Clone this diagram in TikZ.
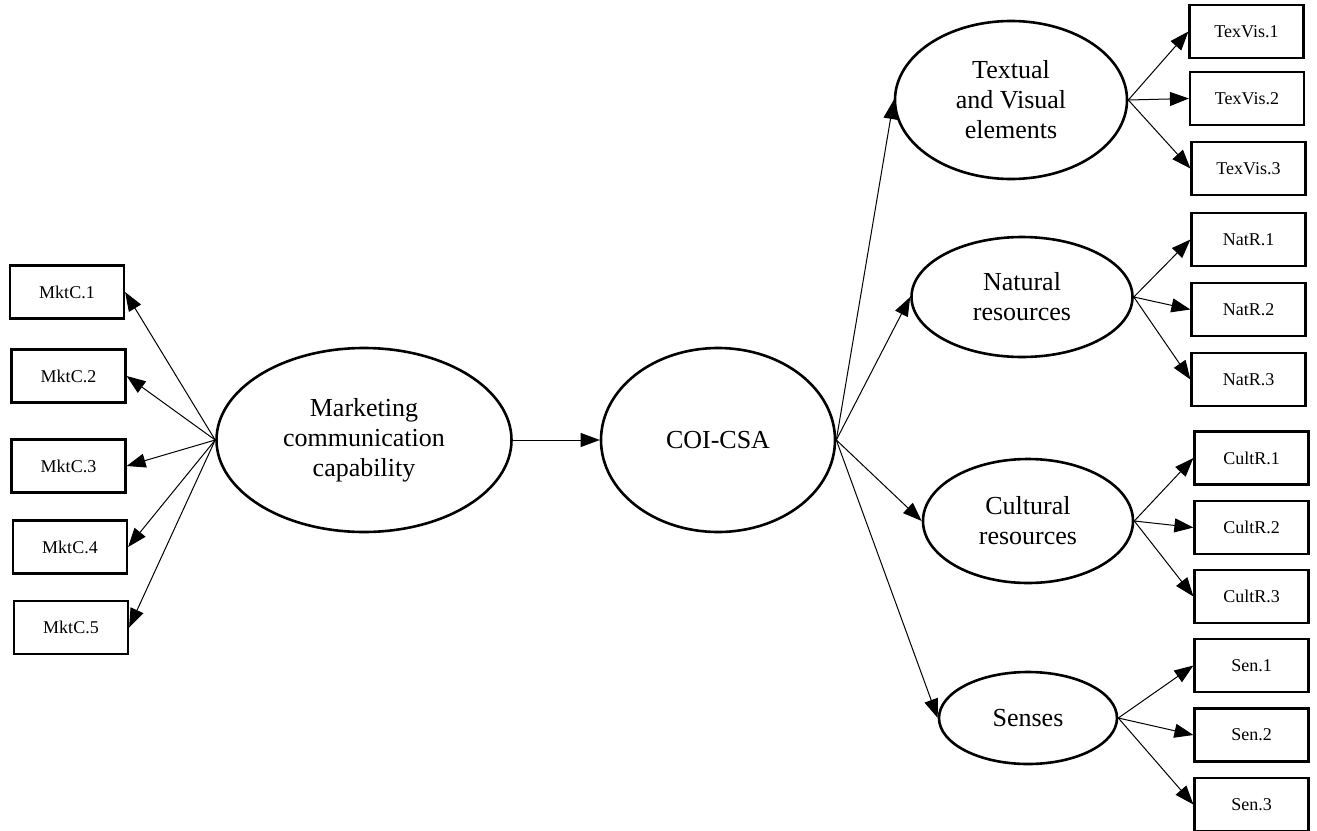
\documentclass[tikz,border=0pt]{standalone}
\usepackage{fontspec}
\setmainfont{Liberation Serif}
\usetikzlibrary{shapes.geometric,arrows.meta}

\begin{document}
\begin{tikzpicture}[
        %Environment config
        x=1pt,y=-1pt,
        line width=1pt,
        >={Triangle[length=19pt,width=14pt]},
        %Environment styles
        LatentCfg/.style={
            ellipse,
            draw,
            line width=2.6pt,
            inner sep=0pt,
            align=center,
            font=\fontsize{26}{30}\selectfont
        },
        ItemCfg/.style={
            rectangle,
            draw,
            line width=2.2pt,
            minimum width=114pt,
            minimum height=53pt,
            inner sep=0pt,
            font=\fontsize{18}{20}\selectfont
        }
    ]
    \useasboundingbox (0,0) rectangle (1317,830);

    % latent constructs
    \path
        (364,440) node[LatentCfg,minimum width=295pt,minimum height=184pt](MC){Marketing\\communication\\capability}
        (718,440) node[LatentCfg,minimum width=234pt,minimum height=184pt](COI){COI-CSA}
        (1011,100) node[LatentCfg,minimum width=232pt,minimum height=158pt](TV){Textual\\and Visual\\elements}
        (1022,297) node[LatentCfg,minimum width=221pt,minimum height=120pt](NR){Natural\\resources}
        (1028,521) node[LatentCfg,minimum width=210pt,minimum height=124pt](CR){Cultural\\resources}
        (1028,718) node[LatentCfg,minimum width=178pt,minimum height=92pt](SE){Senses};

    % indicators
    \path
        (67,292) node[ItemCfg](MK1){MktC.1}
        (68.5,376) node[ItemCfg](MK2){MktC.2}
        (68.5,466) node[ItemCfg](MK3){MktC.3}
        (70,547) node[ItemCfg](MK4){MktC.4}
        (71,627.5) node[ItemCfg](MK5){MktC.5}
        (1246.5,31.5) node[ItemCfg](TV1){TexVis.1}
        (1247,98.5) node[ItemCfg](TV2){TexVis.2}
        (1248.5,168.5) node[ItemCfg](TV3){TexVis.3}
        (1248.5,239.5) node[ItemCfg](NR1){NatR.1}
        (1248.5,309.5) node[ItemCfg](NR2){NatR.2}
        (1248.5,379.5) node[ItemCfg](NR3){NatR.3}
        (1251.5,458) node[ItemCfg](CR1){CultR.1}
        (1251.5,527.5) node[ItemCfg](CR2){CultR.2}
        (1251.5,596.5) node[ItemCfg](CR3){CultR.3}
        (1251.5,665.5) node[ItemCfg](SE1){Sen.1}
        (1251.5,735) node[ItemCfg](SE2){Sen.2}
        (1251.5,804.5) node[ItemCfg](SE3){Sen.3};

    \path[->]
        (MC.west) edge (MK1.east) edge (MK2.east) edge (MK3.east)
            edge (MK4.east) edge (MK5.east)

        (MC.east) edge (COI.west)

        (COI.east) edge (TV.west) edge (NR.west) edge (CR.west) edge (SE.west)

        (TV.east) edge (TV1.west) edge (TV2.west) edge (TV3.west)

        (NR.east) edge (NR1.west) edge (NR2.west) edge (NR3.west)

        (CR.east) edge (CR1.west) edge (CR2.west) edge (CR3.west)

        (SE.east) edge (SE1.west) edge (SE2.west) edge (SE3.west);

\end{tikzpicture}
\end{document}
